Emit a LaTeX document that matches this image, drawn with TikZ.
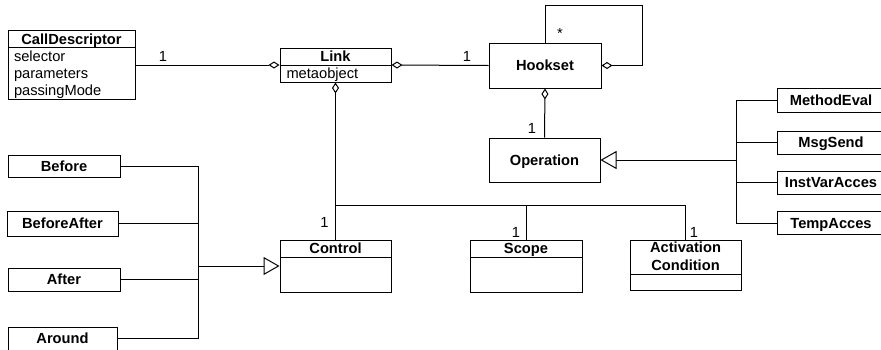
\documentclass[tikz,border=0pt]{standalone}
\usepackage{fontspec}
\setmainfont{Liberation Sans}
\usetikzlibrary{arrows.meta}
\newcommand\dfs{\fontsize{14.67}{17.5}\selectfont}
\begin{document}
\begin{tikzpicture}[x=1pt,y=-1pt,line width=1pt,
  every node/.style={inner sep=0pt,font=\dfs},
  box/.style={draw,fill=white,text height=10.5pt,text depth=0pt},
  cbox/.style={box,font=\dfs\bfseries},
  ttl/.style={font=\dfs\bfseries,anchor=base},
  attr/.style={anchor=base west},
  mult/.style={text height=10.5pt,text depth=0pt},
  agg/.style={{Diamond[open,length=11pt,width=7pt]}-},
  inh/.style={-{Triangle[open,length=16pt,width=18pt]}}]
\path[use as bounding box] (0,0) rectangle (881,349);
\clip (0,0) rectangle (881,349);
\fill[white] (0,0) rectangle (881,349);
% CallDescriptor
\node[box,minimum width=127pt,minimum height=69pt] (cd) at (71.5,65) {};
\draw (8,47.5) -- (135,47.5);
\node[ttl] (cdt) at (71.5,44.5) {CallDescriptor};
\node[attr] (cda1) at (13.5,61.5) {selector};
\node[attr] (cda2) at (13.5,78.5) {parameters};
\node[attr] (cda3) at (13.5,95.5) {passingMode};
% Link
\node[box,minimum width=111pt,minimum height=34pt] (link) at (335.5,65) {};
\draw (280,65.5) -- (391,65.5);
\node[ttl] (linkt) at (335.5,61) {Link};
\node[attr] (linka) at (286,78) {metaobject};
% Hookset, Operation
\node[cbox,minimum width=112pt,minimum height=45pt] (hook) at (545,65.5) {Hookset};
\node[cbox,minimum width=111pt,minimum height=44pt] (oper) at (544.5,160) {Operation};
% right boxes
\node[cbox,minimum width=108pt,minimum height=24pt] (me) at (831,100.5) {MethodEval};
\node[cbox,minimum width=108pt,minimum height=23pt] (ms) at (831,142.5) {MsgSend};
\node[cbox,minimum width=108pt,minimum height=23pt] (iv) at (831,182.5) {InstVarAcces};
\node[cbox,minimum width=108pt,minimum height=23pt] (ta) at (831,223) {TempAcces};
% left boxes
\node[cbox,minimum width=112pt,minimum height=22pt] (before) at (64,166) {Before};
\node[cbox,minimum width=111pt,minimum height=25pt] (ba) at (62.5,223.5) {BeforeAfter};
\node[cbox,minimum width=112pt,minimum height=23pt] (after) at (64,279.5) {After};
\node[cbox,minimum width=109pt,minimum height=23pt] (around) at (62.5,338.7) {Around};
% Control, Scope, Activation Condition
\node[box,minimum width=111pt,minimum height=52pt] (ctrl) at (335.5,266) {};
\draw (280,257) -- (391,257);
\node[ttl] (ctrlt) at (335.5,253) {Control};
\node[box,minimum width=112pt,minimum height=52pt] (scope) at (526,266) {};
\draw (470,257) -- (582,257);
\node[ttl] (scopet) at (526,253) {Scope};
\node[box,minimum width=111pt,minimum height=50pt] (act) at (685.5,265) {};
\draw (630,274) -- (741,274);
\node[font=\dfs\bfseries,align=center] (actt) at (685.5,256.5) {Activation\\Condition};
% connectors
\draw[agg] (link.west) -- (cd.east);
\draw[agg] (link.east) -- (hook.west);
\draw[agg] (hook.south) -- (oper.north);
\coordinate (lp) at (642,5);
\draw[agg] (hook.east) -| (lp) -| (hook.north);
\draw[agg] (link.south) -- (ctrl.north);
\coordinate (j) at (335.5,205);
\draw (j) -- (act.north |- j) -- (act.north);
\draw (scope.north |- j) -- (scope.north);
% inheritance right
\coordinate (rb) at (736,160);
\draw[inh] (rb) -- (oper.east);
\draw (me.west) -- (me.west -| rb) -- (ta.west -| rb) -- (ta.west);
\draw (ms.west) -- (ms.west -| rb);
\draw (iv.west) -- (iv.west -| rb);
% inheritance left
\coordinate (lb) at (198,266);
\draw[inh] (lb) -- (ctrl.west);
\draw (before.east) -- (before.east -| lb) -- (around.east -| lb) -- (around.east);
\draw (ba.east) -- (ba.east -| lb);
\draw (after.east) -- (after.east -| lb);
% multiplicities
\node[mult] (m1) at (163,56) {1};
\node[mult] (m2) at (467,56) {1};
\node[mult] (m3) at (532,128) {1};
\node[mult] (m4) at (324.5,222.5) {1};
\node[mult] (m5) at (516,232.5) {1};
\node[mult] (m6) at (694,232.5) {1};
\node[anchor=base] (m7) at (560,38) {*};
\end{tikzpicture}
\end{document}
